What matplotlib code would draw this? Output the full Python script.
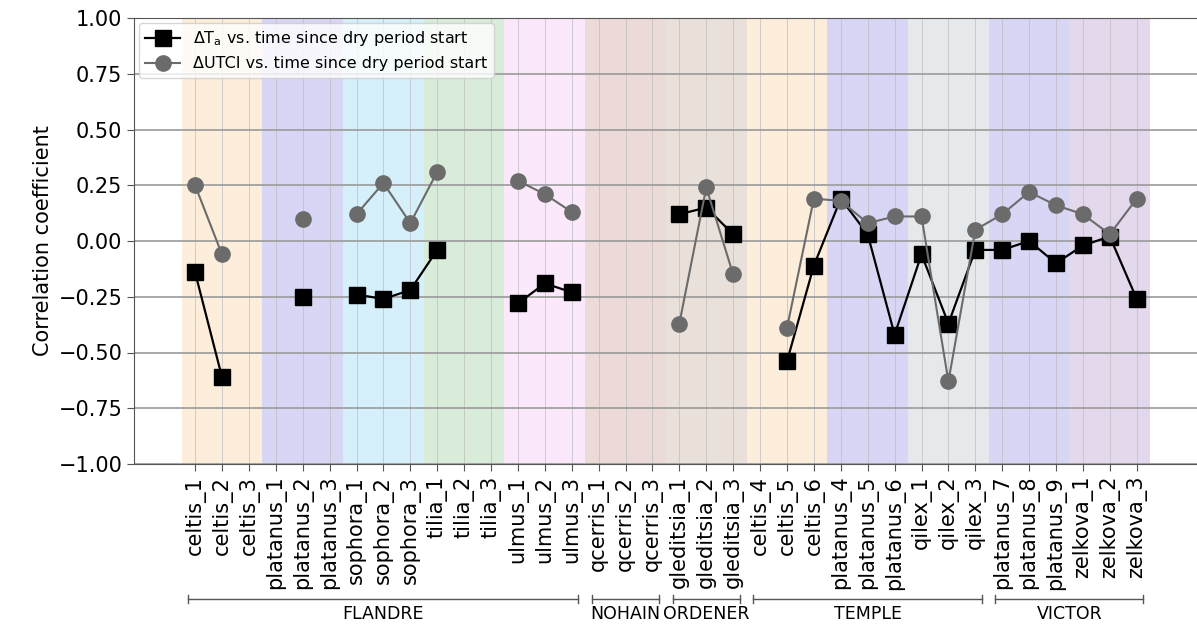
import matplotlib
matplotlib.use('Agg')
import matplotlib.pyplot as plt
import matplotlib.transforms as transforms
import numpy as np

nan = np.nan

# tree labels along the x axis
tree_labels = [
    'celtis_1', 'celtis_2', 'celtis_3',
    'platanus_1', 'platanus_2', 'platanus_3',
    'sophora_1', 'sophora_2', 'sophora_3',
    'tilia_1', 'tilia_2', 'tilia_3',
    'ulmus_1', 'ulmus_2', 'ulmus_3',
    'qcerris_1', 'qcerris_2', 'qcerris_3',
    'gleditsia_1', 'gleditsia_2', 'gleditsia_3',
    'celtis_4', 'celtis_5', 'celtis_6',
    'platanus_4', 'platanus_5', 'platanus_6',
    'qilex_1', 'qilex_2', 'qilex_3',
    'platanus_7', 'platanus_8', 'platanus_9',
    'zelkova_1', 'zelkova_2', 'zelkova_3',
]

# correlation of dT_a with time since dry period start
corr_ta = [
    -0.14, -0.61, nan,
    nan, -0.25, nan,
    -0.24, -0.26, -0.22,
    -0.04, nan, nan,
    -0.28, -0.19, -0.23,
    nan, nan, nan,
    0.12, 0.15, 0.03,
    nan, -0.54, -0.11,
    0.19, 0.03, -0.42,
    -0.06, -0.37, -0.04,
    -0.04, 0.00, -0.10,
    -0.02, 0.02, -0.26,
]

# correlation of dUTCI with time since dry period start
corr_utci = [
    0.25, -0.06, nan,
    nan, 0.10, nan,
    0.12, 0.26, 0.08,
    0.31, nan, nan,
    0.27, 0.21, 0.13,
    nan, nan, nan,
    -0.37, 0.24, -0.15,
    nan, -0.39, 0.19,
    0.18, 0.08, 0.11,
    0.11, -0.63, 0.05,
    0.12, 0.22, 0.16,
    0.12, 0.03, 0.19,
]

# species bands (first index, last index, colour)
species_bands = [
    (0, 2, '#fdeedb'), (3, 5, '#d8d6f5'), (6, 8, '#d5f0fb'),
    (9, 11, '#d9ecda'), (12, 14, '#fbe9fb'), (15, 17, '#ecdad9'),
    (18, 20, '#e8e0d9'), (21, 23, '#fdeedb'), (24, 26, '#d8d6f5'),
    (27, 29, '#e6e9ec'), (30, 32, '#d8d6f5'), (33, 35, '#e3d8ec'),
]

# sites (first index, last index, name)
sites = [
    (0, 14, 'FLANDRE'),
    (15, 17, 'NOHAIN'),
    (18, 20, 'ORDENER'),
    (21, 29, 'TEMPLE'),
    (30, 35, 'VICTOR'),
]

fig = plt.figure(figsize=(11.97, 6.3), dpi=100)
ax = fig.add_axes([134 / 1197, 1 - 464 / 630, 1070 / 1197, 446 / 630])

x = np.arange(len(tree_labels))

for i0, i1, c in species_bands:
    ax.axvspan(i0 - 0.5, i1 + 0.5, color=c, lw=0, zorder=0)

ax.grid(axis='y', color='#9a9a9a', lw=1.2, zorder=1)
ax.grid(axis='x', color='#bdbdbd', lw=0.5, zorder=1)
ax.set_axisbelow(True)

ax.plot(x, corr_ta, color='black', marker='s', ms=11, lw=1.6,
        label='ΔT$_\\mathrm{a}$ vs. time since dry period start', zorder=3)
ax.plot(x, corr_utci, color='#6b6b6b', marker='o', ms=11, lw=1.5,
        label='ΔUTCI vs. time since dry period start', zorder=4)

ax.set_xlim(-2.27, 37.5)
ax.set_ylim(-1, 1)
ax.set_yticks(np.arange(-1, 1.01, 0.25))
ax.yaxis.set_major_formatter(matplotlib.ticker.FuncFormatter(
    lambda v, pos: f'{v:.2f}'.replace('-', '\u2212')))
ax.set_xticks(x, tree_labels, rotation=90, fontsize=15)
ax.tick_params(axis='y', labelsize=15)
ax.tick_params(color='#555555', length=5)
ax.set_ylabel('Correlation coefficient', fontsize=15)

for s in ['left', 'bottom', 'top']:
    ax.spines[s].set_color('#555555')
ax.spines['right'].set_visible(False)

ax.legend(loc='upper left', fontsize=11.5, handlelength=2.2,
          borderaxespad=0.3)

# site brackets under the tick labels
tx = transforms.blended_transform_factory(ax.transData, ax.transAxes)
yb = -135 / 446
yt = -150 / 446
for i0, i1, name in sites:
    a, b = i0 - 0.25, i1 + 0.25
    ax.plot([a, b], [yb, yb], color='#555555', lw=1, transform=tx, clip_on=False)
    for e in (a, b):
        ax.plot([e, e], [yb - 0.008, yb + 0.008], color='#555555', lw=1,
                transform=tx, clip_on=False)
    ax.text((a + b) / 2, yt, name, transform=tx, ha='center', va='center',
            fontsize=12.5)

plt.savefig('out.png', dpi=100)
plt.close()
